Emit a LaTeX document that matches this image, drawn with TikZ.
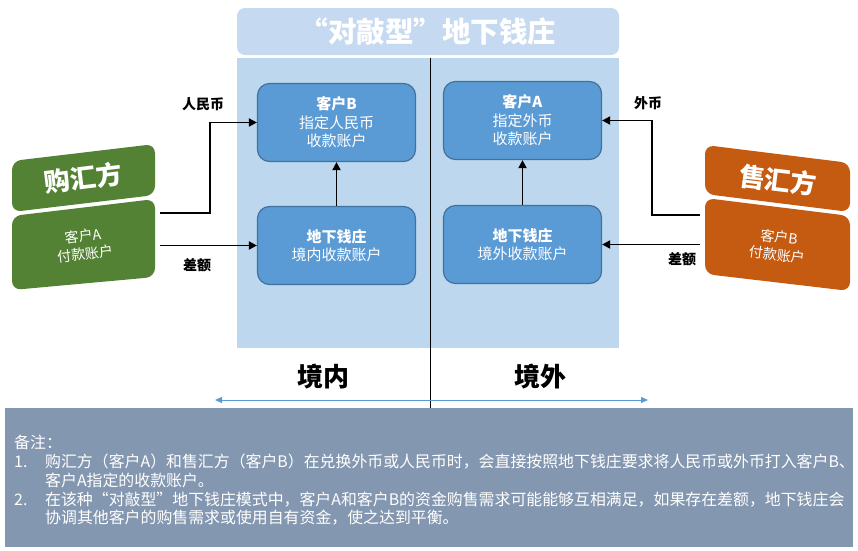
\documentclass[tikz,border=0pt]{standalone}
\usepackage{fontspec}
\setmainfont{Noto Sans CJK SC}
\usetikzlibrary{arrows.meta}

\definecolor{panel_blue}{HTML}{BDD7EE}
\definecolor{title_blue}{HTML}{C5D9F0}
\definecolor{box_blue}{HTML}{5B9BD5}
\definecolor{box_edge}{HTML}{41719C}
\definecolor{buy_green}{HTML}{548235}
\definecolor{sell_orange}{HTML}{C55A11}
\definecolor{note_gray}{HTML}{8497B0}

\begin{document}
\begin{tikzpicture} [x=1pt, y=-1pt,
                    acct_style/.style={rectangle, rounded corners=12pt, draw=box_edge, line width=1.2pt, fill=box_blue, text=white,
                      minimum width=158pt, minimum height=78pt, align=center, font=\fontsize{15}{18.5}\selectfont},
                    edge_style/.style={draw=black, line width=1.8pt, -{Triangle[length=8pt,width=8pt]}},
                    label_style/.style={font=\fontsize{14}{16}\selectfont\bfseries},
                    party_style/.style={rounded corners=9pt}]
                    \useasboundingbox (0,0) rectangle (858,550);
                    % title and panel
                    \node (title) [fill=title_blue, rounded corners=8pt, minimum width=382pt, minimum height=47pt, text=white,
                      font=\fontsize{28.5}{30}\selectfont\bfseries] at (428,31.5) {“对敲型”地下钱庄};
                    \node (panel) [fill=panel_blue, minimum width=382pt, minimum height=290pt, inner sep=0pt] at (428,203) {};
                    \coordinate (div_top) at (430,58);
                    \coordinate (div_bot) at (430,408);
                    \draw [black, line width=0.8pt] (div_top) -- (div_bot);
                    % accounts
                    \node (cust_b) [acct_style] at (336.5,122.5) {\textbf{客户B}\\指定人民币\\收款账户};
                    \node (bank_in) [acct_style] at (336.5,245.5) {\textbf{地下钱庄}\\境内收款账户};
                    \node (cust_a) [acct_style] at (522.5,120.5) {\textbf{客户A}\\指定外币\\收款账户};
                    \node (bank_out) [acct_style] at (522.5,244.5) {\textbf{地下钱庄}\\境外收款账户};
                    \draw [edge_style] (bank_in) -- (cust_b);
                    \draw [edge_style] (bank_out) -- (cust_a);
                    % buyer
                    \fill [buy_green, party_style] (12,161) -- (155,144) -- (155,195) -- (12,212) -- cycle;
                    \fill [buy_green, party_style] (12,216) -- (155,199) -- (155,277) -- (12,290) -- cycle;
                    \node (buyer) [text=white, rotate=7, font=\fontsize{26}{28}\selectfont\bfseries] at (83,178) {购汇方};
                    \node (buyer_acct) [text=white, rotate=7, align=center, font=\fontsize{14}{18}\selectfont] at (84,245) {客户A\\付款账户};
                    % seller
                    \fill [sell_orange, party_style] (705,145) -- (850,163) -- (850,212) -- (705,194) -- cycle;
                    \fill [sell_orange, party_style] (705,198) -- (850,216) -- (850,291) -- (705,274) -- cycle;
                    \node (seller) [text=white, rotate=-7, font=\fontsize{26}{28}\selectfont\bfseries] at (778,180) {售汇方};
                    \node (seller_acct) [text=white, rotate=-7, align=center, font=\fontsize{14}{18}\selectfont] at (778,246) {客户B\\付款账户};
                    % flows
                    \coordinate (buy_rmb) at (160,213);
                    \coordinate (buy_diff) at (160,245.5);
                    \coordinate (sell_fx) at (700,215);
                    \coordinate (sell_diff) at (700,244.5);
                    \draw [edge_style] (buy_rmb) -- ++(50,0) |- (cust_b);
                    \draw [edge_style] (buy_diff) -- (bank_in);
                    \draw [edge_style] (sell_fx) -- ++(-48,0) |- (cust_a);
                    \draw [edge_style] (sell_diff) -- (bank_out);
                    \node (lbl_rmb) [label_style] at (203,104) {人民币};
                    \node (lbl_diff_l) [label_style] at (197,265) {差额};
                    \node (lbl_fx) [label_style] at (648,103) {外币};
                    \node (lbl_diff_r) [label_style] at (682,259) {差额};
                    % onshore / offshore
                    \node (onshore) [font=\fontsize{26}{28}\selectfont\bfseries] at (323,377) {境内};
                    \node (offshore) [font=\fontsize{26}{28}\selectfont\bfseries] at (540,377) {境外};
                    \coordinate (span_l) at (215,400);
                    \coordinate (span_r) at (648,400);
                    \draw [box_blue, line width=1pt, {Triangle[length=7pt,width=6pt]}-{Triangle[length=7pt,width=6pt]}] (span_l) -- (span_r);
                    % notes
                    \node (notes) [fill=note_gray, minimum width=848pt, minimum height=139pt, inner sep=0pt] at (429,477.5) {};
                    \node (note_text) [anchor=north west, align=left, text=white, inner sep=0pt,
                      font=\fontsize{15.9}{18.8}\selectfont] at (14,435)
                      {备注：\\
                      \makebox[31pt][l]{1.}购汇方（客户A）和售汇方（客户B）在兑换外币或人民币时，会直接按照地下钱庄要求将人民币或外币打入客户B、\\
                      \hspace*{31pt}客户A指定的收款账户。\\
                      \makebox[31pt][l]{2.}在该种“对敲型”地下钱庄模式中，客户A和客户B的资金购售需求可能能够互相满足，如果存在差额，地下钱庄会\\
                      \hspace*{31pt}协调其他客户的购售需求或使用自有资金，使之达到平衡。};
                \end{tikzpicture}
\end{document}
